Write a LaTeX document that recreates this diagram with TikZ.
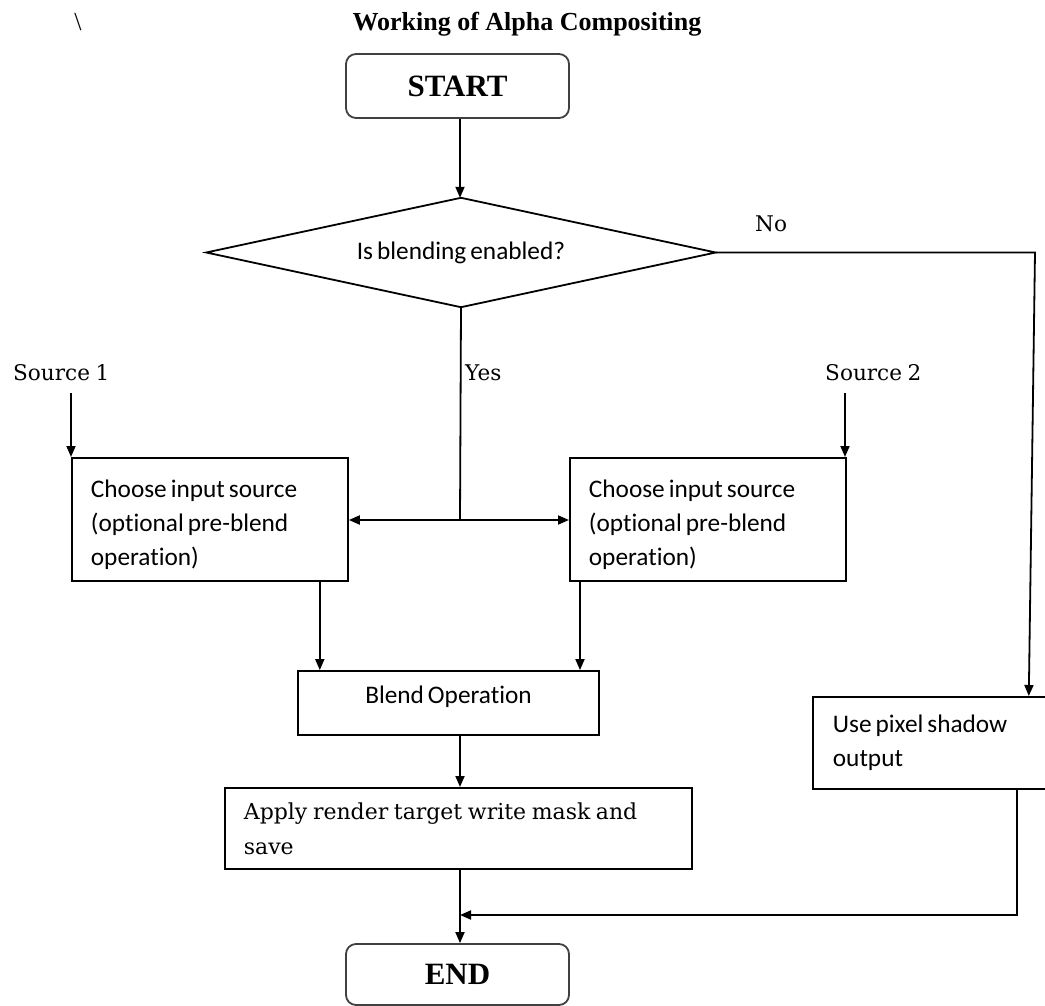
\documentclass[tikz,border=0pt]{standalone}
\usepackage{fontspec}
\setmainfont{Liberation Serif}
\newfontfamily\calib[WordSpace=0.7,Ligatures=NoCommon]{Carlito}
\newfontfamily\camb[WordSpace=0.8]{DejaVu Serif}
\usetikzlibrary{shapes.geometric,arrows.meta}
\tikzset{
  line/.style={line width=1.8pt, draw=black},
  arr/.style={line, -{Triangle[length=11pt,width=9pt]}},
  pbox/.style={draw, line width=1.8pt, rectangle, inner ysep=0pt, align=flush left,
    font=\calib\fontsize{25.3}{34}\selectfont},
  sbox/.style={draw, line width=1.8pt, rectangle, inner ysep=0pt, align=flush left,
    font=\camb\fontsize{22}{35}\selectfont},
  term/.style={draw=black!75, line width=1.8pt, rounded corners=10pt, inner sep=0pt,
    font=\bfseries\fontsize{31}{34}\selectfont},
  dia/.style={rectangle, inner sep=0pt,
    minimum width=509pt, minimum height=109pt,
    font=\calib\fontsize{25.3}{30}\selectfont},
  lbl/.style={inner sep=0pt, font=\camb\fontsize{21.6}{26}\selectfont},
}
\begin{document}
\begin{tikzpicture}[x=1pt,y=-1pt]
\fill[white] (0,0) rectangle (1045,1006);
\useasboundingbox (0,0) rectangle (1045,1006);

% title
\node[inner sep=0pt, anchor=base, font=\fontsize{26}{30}\selectfont] (bs) at (78,31) {\textbackslash};
\node[inner sep=0pt, anchor=base, font=\bfseries\fontsize{26}{30}\selectfont] (title) at (527,31) {Working of Alpha Compositing};

% nodes
\node[term, minimum width=223pt, minimum height=64pt] (start) at (457.5,86) {START};
\node[dia] (dec) at (461,252.5) {Is blending enabled?};
\draw[line, line join=miter] (dec.north) -- (dec.east) -- (dec.south) -- (dec.west) -- cycle;

\node[pbox, anchor=north west, minimum width=276pt, minimum height=123pt,
      text width=238pt, inner xsep=19pt] (c1) at (71,457)
      {\rule{0pt}{28pt}Choose input source\\(optional pre-blend\\operation)};
\node[pbox, anchor=north west, minimum width=276pt, minimum height=123pt,
      text width=238pt, inner xsep=19pt] (c2) at (569,457)
      {\rule{0pt}{28pt}Choose input source\\(optional pre-blend\\operation)};

\node[pbox, align=center, minimum width=301pt, minimum height=64pt, text depth=16pt] (blend) at (448.5,703) {Blend Operation};

\node[sbox, anchor=north west, minimum width=467pt, minimum height=81pt,
      text width=429pt, inner xsep=19pt] (apply) at (224,787)
      {Apply render target write mask and\\save};

\node[pbox, anchor=north west, minimum width=234pt, minimum height=92pt,
      text width=194pt, inner xsep=20pt] (pix) at (812,696)
      {Use pixel shadow\\output};

\node[term, minimum width=223pt, minimum height=61pt] (endn) at (457.5,974.5) {END};

% labels
\node[lbl, anchor=base west] (s1) at (13,380) {Source 1};
\node[lbl, anchor=base west] (s2) at (825,380) {Source 2};
\node[lbl, anchor=base west] (yes) at (465,380) {Yes};
\node[lbl, anchor=base west] (no) at (755,232) {No};

% coordinates
\coordinate (ax) at (460,0);
\coordinate (split) at (460,520);
\coordinate (s1a) at (71,393);
\coordinate (s2a) at (845,393);
\coordinate (c1b) at ([xshift=-29pt]c1.south east);
\coordinate (c2b) at ([xshift=11pt]c2.south west);
\coordinate (nocorner) at (1035,250);
\coordinate (rc) at (1017,915);

% connectors
\draw[arr] (ax |- start.south) -- (ax |- dec.north);
\draw[line] (dec.south) -- (split);
\draw[arr] (split) -- (split -| c1.east);
\draw[arr] (split) -- (split -| c2.west);
\draw[arr] (s1a) -- (s1a |- c1.north);
\draw[arr] (s2a) -- (s2a |- c2.north);
\draw[arr] (c1b) -- (c1b |- blend.north);
\draw[arr] (c2b) -- (c2b |- blend.north);
\draw[arr] (ax |- blend.south) -- (ax |- apply.north);
\draw[arr] (ax |- apply.south) -- (ax |- endn.north);
\draw[arr] (dec.east) -- (dec.east -| nocorner) -- ([xshift=-19pt]pix.north east);
\draw[arr] (rc |- pix.south) -- (rc) -- (rc -| ax);
\end{tikzpicture}
\end{document}
